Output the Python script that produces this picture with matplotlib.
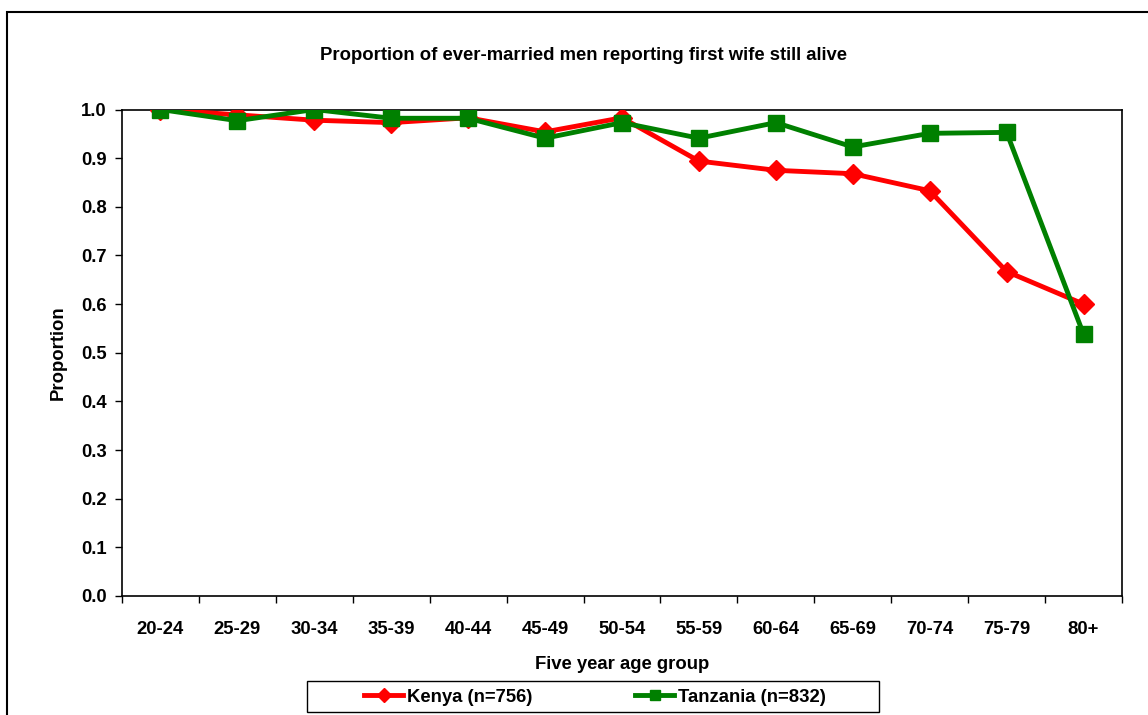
import matplotlib
matplotlib.use("Agg")
import matplotlib.pyplot as plt
from matplotlib.patches import Rectangle
from matplotlib.ticker import FixedLocator, FormatStrFormatter

plt.rcParams['font.family'] = ['Liberation Sans', 'DejaVu Sans']
plt.rcParams['font.weight'] = 'bold'

# data
age_groups = ["20-24", "25-29", "30-34", "35-39", "40-44", "45-49", "50-54",
              "55-59", "60-64", "65-69", "70-74", "75-79", "80+"]
kenya = [1.0, 0.989, 0.978, 0.973, 0.983, 0.954, 0.983,
         0.894, 0.875, 0.868, 0.833, 0.667, 0.600]
tanzania = [1.0, 0.977, 1.0, 0.982, 0.982, 0.941, 0.973,
            0.941, 0.973, 0.923, 0.951, 0.953, 0.538]
kenya_label = "Kenya (n=756)"
tanzania_label = "Tanzania (n=832)"

FS = 13.3
W, H = 1148, 715
fig = plt.figure(figsize=(W / 100, H / 100), dpi=100)
ax = fig.add_axes([122 / W, 1 - 596 / H, 1000 / W, (596 - 109.5) / H])

x = range(len(age_groups))
ax.plot(x, kenya, color="#ff0000", lw=3.5, marker="D", ms=10, label=kenya_label, zorder=3)
ax.plot(x, tanzania, color="#008000", lw=3.5, marker="s", ms=11, label=tanzania_label, zorder=4)

ax.set_xlim(-0.5, len(age_groups) - 0.5)
ax.set_ylim(0, 1.0)
ax.set_xticks(list(x))
ax.set_xticklabels(age_groups, fontsize=FS, fontweight="bold")
ax.xaxis.set_minor_locator(FixedLocator([i - 0.5 for i in range(len(age_groups) + 1)]))
ax.tick_params(axis="x", which="major", length=0, pad=18)
ax.tick_params(axis="x", which="minor", length=5, width=1, direction="out")
ax.set_yticks([i / 10 for i in range(11)])
ax.yaxis.set_major_formatter(FormatStrFormatter("%.1f"))
ax.tick_params(axis="y", length=5, width=1, direction="out", pad=6, labelsize=FS)
for lab in ax.get_yticklabels():
    lab.set_fontweight("bold")
for s in ax.spines.values():
    s.set_linewidth(1.2)
    s.set_color("black")

ax.set_xlabel("Five year age group", fontsize=FS, fontweight="bold", labelpad=13)
ax.set_ylabel("Proportion", fontsize=FS, fontweight="bold", labelpad=10)

fig.text(584 / W, 1 - 55 / H, "Proportion of ever-married men reporting first wife still alive",
         ha="center", va="center", fontsize=FS, fontweight="bold")

leg = fig.legend(loc="center", bbox_to_anchor=(595 / W, 1 - 697 / H), ncol=2,
                 frameon=False, fontsize=FS,
                 handlelength=2.1, handletextpad=0.2, columnspacing=5.6,
                 markerscale=0.7)
for t in leg.get_texts():
    t.set_fontweight("bold")

# legend box drawn separately to get the wide side padding
fig.patches.append(Rectangle((307 / W, 1 - 712 / H), 572 / W, 31 / H, transform=fig.transFigure,
                             fill=False, edgecolor="black", lw=1))

# outer chart frame (right/bottom edges fall outside the picture)
fig.patches.append(Rectangle((7 / W, -0.1), 1.2, 1 - 12 / H + 0.1, transform=fig.transFigure,
                             fill=False, edgecolor="black", lw=1.5))

fig.savefig("out.png", dpi=100)
